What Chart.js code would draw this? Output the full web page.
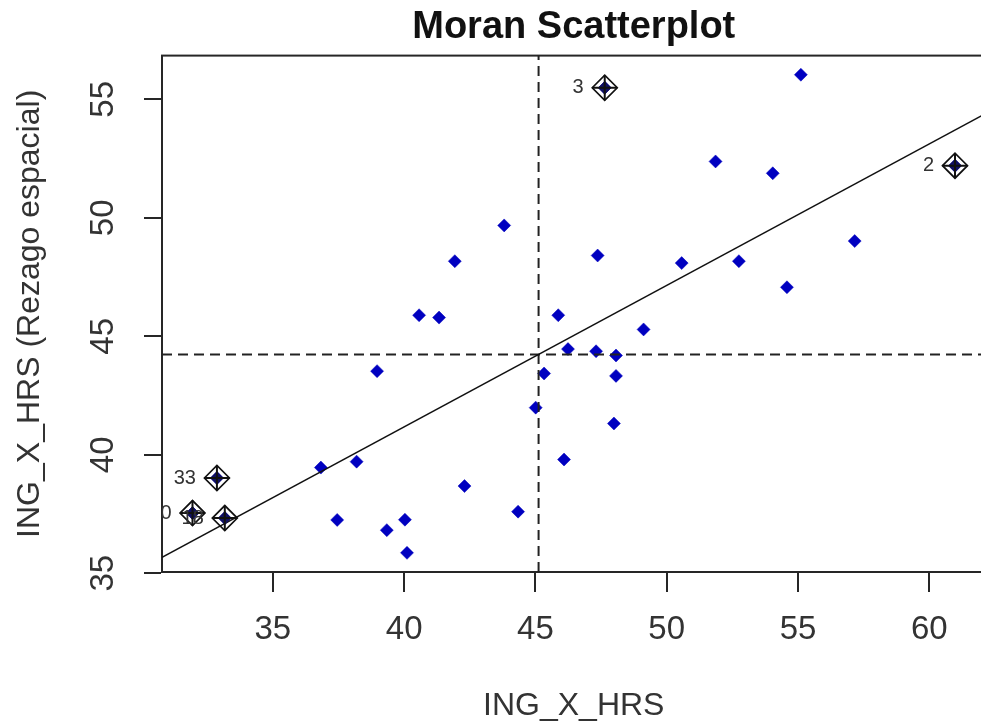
<!DOCTYPE html>
<html>
<head>
<meta charset="utf-8">
<script src="https://cdn.jsdelivr.net/npm/chart.js@4/dist/chart.umd.min.js"></script>
<style>
html,body{margin:0;padding:0;background:#fff;overflow:hidden}
#wrap{width:981px;height:725px;overflow:hidden;position:relative;background:#fff}
canvas{position:absolute;left:0;top:0}
</style>
</head>
<body>
<div id="wrap"><canvas id="c" width="1000" height="725" style="width:1000px;height:725px"></canvas></div>
<script>
// ---- data ----
const xValues = [32.87, 31.94, 33.17, 36.83, 38.19, 37.45, 39.34, 40.03, 40.11,
                 43.81, 41.93, 40.57, 41.33, 38.97, 45.87, 46.24, 45.33, 45.01,
                 49.12, 47.31, 48.07, 48.07, 47.99, 46.09, 42.30, 44.34,
                 47.64, 55.11, 51.86, 54.04, 60.98, 47.37, 50.57, 52.75, 54.58, 57.16];
const lagValues = [39.02, 37.54, 37.33, 39.46, 39.71, 37.25, 36.82, 37.26, 35.86,
                   49.68, 48.17, 45.89, 45.79, 43.53, 45.89, 44.46, 43.43, 41.99,
                   45.29, 44.37, 44.19, 43.33, 41.32, 39.80, 38.68, 37.60,
                   55.49, 56.04, 52.38, 51.88, 52.20, 48.41, 48.09, 48.17, 47.07, 49.02];
const influentialIndex = [0, 1, 2, 26, 30];
const influentialLabels = ["33", "0", "18", "3", "2"];
const xTicks = [35, 40, 45, 50, 55, 60];
const yTicks = [35, 40, 45, 50, 55];
const titleText = "Moran Scatterplot";
const xTitle = "ING_X_HRS";
const yTitle = "ING_X_HRS (Rezago espacial)";

// ---- derived quantities (R moran.plot conventions) ----
const n = xValues.length;
const meanX = xValues.reduce((a, b) => a + b, 0) / n;
const meanY = lagValues.reduce((a, b) => a + b, 0) / n;
let sxy = 0, sxx = 0;
for (let i = 0; i < n; i++) { sxy += (xValues[i] - meanX) * (lagValues[i] - meanY); sxx += (xValues[i] - meanX) ** 2; }
const slope = sxy / sxx;
const intercept = meanY - slope * meanX;
const xLo = Math.min(...xValues), xHi = Math.max(...xValues);
const yLo = Math.min(...lagValues), yHi = Math.max(...lagValues);
const xMin = xLo - 0.04 * (xHi - xLo), xMax = xHi + 0.04 * (xHi - xLo);
const yMin = yLo - 0.04 * (yHi - yLo), yMax = yHi + 0.04 * (yHi - yLo);

const FONT = '"Liberation Sans", Arial, Helvetica, sans-serif';
Chart.defaults.font.family = FONT;
const INK = '#262626';

const points = xValues.map((x, i) => ({x: x, y: lagValues[i]}));
const infPoints = influentialIndex.map(i => ({x: xValues[i], y: lagValues[i]}));

const boxPlugin = {
  id: 'plotBox',
  beforeDatasetsDraw(chart) {
    const {ctx, chartArea: a} = chart;
    ctx.save();
    ctx.strokeStyle = INK;
    ctx.lineWidth = 2;
    ctx.strokeRect(a.left, a.top, a.right - a.left, a.bottom - a.top);
    ctx.restore();
  }
};

const labelPlugin = {
  id: 'infLabels',
  afterDatasetsDraw(chart) {
    const {ctx, chartArea: a, scales} = chart;
    ctx.save();
    ctx.beginPath();
    ctx.rect(a.left, a.top, a.right - a.left, a.bottom - a.top);
    ctx.clip();
    ctx.font = '20px ' + FONT;
    ctx.fillStyle = '#333';
    ctx.textAlign = 'right';
    ctx.textBaseline = 'middle';
    influentialIndex.forEach((idx, k) => {
      const px = scales.x.getPixelForValue(xValues[idx]);
      const py = scales.y.getPixelForValue(lagValues[idx]);
      ctx.fillText(influentialLabels[k], px - 21, py);
    });
    ctx.restore();
  }
};

new Chart(document.getElementById('c'), {
  type: 'scatter',
  data: {
    datasets: [
      {
        label: 'influential-diamond',
        data: infPoints,
        pointStyle: 'rectRot',
        pointRadius: 12.5,
        backgroundColor: 'rgba(0,0,0,0)',
        borderColor: '#111',
        borderWidth: 1.7,
        order: 1
      },
      {
        label: 'influential-cross',
        data: infPoints,
        pointStyle: 'cross',
        pointRadius: 12.5,
        borderColor: '#111',
        borderWidth: 2,
        order: 1
      },
      {
        label: 'influential-core',
        data: infPoints,
        pointStyle: 'rectRot',
        pointRadius: 6.5,
        backgroundColor: '#101060',
        borderColor: '#101060',
        borderWidth: 0.5,
        order: 2
      },
      {
        label: 'regression',
        data: [{x: xMin, y: intercept + slope * xMin}, {x: xMax, y: intercept + slope * xMax}],
        showLine: true,
        pointRadius: 0,
        borderColor: '#111',
        borderWidth: 1.5,
        order: 3
      },
      {
        label: 'meanY',
        data: [{x: xMin, y: meanY}, {x: xMax, y: meanY}],
        showLine: true,
        pointRadius: 0,
        borderColor: '#222',
        borderWidth: 2,
        borderDash: [10, 6],
        order: 3
      },
      {
        label: 'meanX',
        data: [{x: meanX, y: yMin}, {x: meanX, y: yMax}],
        showLine: true,
        pointRadius: 0,
        borderColor: '#222',
        borderWidth: 2,
        borderDash: [10, 6],
        order: 3
      },
      {
        label: 'points',
        data: points,
        pointStyle: 'rectRot',
        pointRadius: 6.5,
        backgroundColor: '#0000C0',
        borderColor: '#0000C0',
        borderWidth: 0.5,
        order: 10
      }
    ]
  },
  options: {
    responsive: false,
    animation: false,
    devicePixelRatio: 1,
    events: [],
    layout: {padding: {left: 0, right: 10, top: 0, bottom: 0}},
    plugins: {
      legend: {display: false},
      tooltip: {enabled: false},
      title: {
        display: true,
        text: titleText,
        fullSize: false,
        color: '#111',
        font: {family: FONT, size: 38, weight: 'bold'},
        padding: {top: 5, bottom: 5}
      }
    },
    scales: {
      x: {
        type: 'linear',
        min: xMin,
        max: xMax,
        afterBuildTicks: s => { s.ticks = xTicks.map(v => ({value: v})); },
        afterFit: s => { s.height = 153; },
        grid: {display: true, drawOnChartArea: false, drawTicks: true, tickLength: 20, color: INK, lineWidth: 2},
        border: {display: true, color: INK, width: 2},
        ticks: {color: '#333', font: {size: 33}, padding: 18, maxRotation: 0, autoSkip: false, callback: v => String(v)},
        title: {display: true, text: xTitle, color: '#333', font: {size: 32}, padding: {top: 0, bottom: 0}}
      },
      y: {
        type: 'linear',
        min: yMin,
        max: yMax,
        afterBuildTicks: s => { s.ticks = yTicks.map(v => ({value: v})); },
        afterFit: s => { s.width = 162; },
        grid: {display: true, drawOnChartArea: false, drawTicks: true, tickLength: 18, color: INK, lineWidth: 2},
        border: {display: true, color: INK, width: 2},
        ticks: {color: '#333', font: {size: 33}, padding: 22, minRotation: 90, maxRotation: 90, crossAlign: 'center', autoSkip: false, callback: v => String(v)},
        title: {display: true, text: yTitle, color: '#333', font: {size: 32}, padding: {top: 11, bottom: 0}}
      }
    }
  },
  plugins: [boxPlugin, labelPlugin]
});
</script>
</body>
</html>
